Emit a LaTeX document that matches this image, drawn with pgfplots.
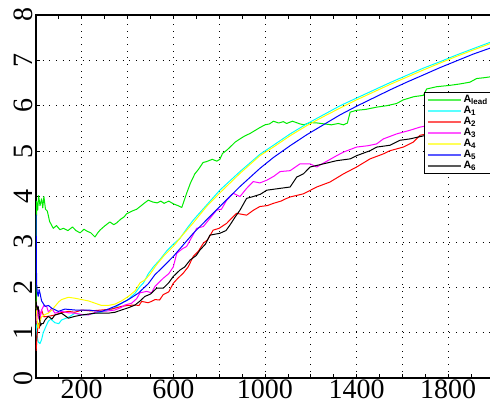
\documentclass[border=0pt]{standalone}
\usepackage{fontspec}
\setmainfont{Liberation Serif}
\setsansfont{Liberation Sans}
\usepackage{pgfplots}
\pgfplotsset{compat=1.18}
\definecolor{cgreen}{RGB}{0,235,0}
\definecolor{ccyan}{RGB}{0,255,255}
\definecolor{cred}{RGB}{255,0,0}
\definecolor{cmag}{RGB}{255,0,255}
\definecolor{cyel}{RGB}{255,255,0}
\definecolor{cblue}{RGB}{0,0,255}
\begin{document}
\begin{tikzpicture}
\begin{axis}[
  scale only axis,
  width=343.5pt, height=272.25pt,
  xmin=0, xmax=2000, ymin=0, ymax=8,
  axis line style={line width=1.4pt},
  xtick={200,400,...,1800},
  xticklabels={200,,600,,1000,,1400,,1800},
  minor xtick={100,300,...,1900},
  ytick={0,1,...,8},
  tick align=inside,
  major tick length=3pt, minor tick length=3pt,
  tick style={black, line width=0.5pt},
  grid=major,
  major grid style={black, line width=0.6pt, dash pattern=on 0.6pt off 4.4pt},
  /pgf/number format/assume math mode=true,
  ticklabel style={font=\fontsize{21}{21}\selectfont},
  yticklabel style={rotate=90, anchor=south, inner sep=2pt},
  xticklabel style={inner sep=1pt},
  every axis plot/.append style={line width=0.75pt, line join=round},
  legend style={at={(rel axis cs:0.847,0.788)}, anchor=north west,
    draw=black, line width=0.8pt, fill=white,
    font=\fontsize{8}{8}\selectfont\sffamily\bfseries,
    inner xsep=1.5pt, inner ysep=1pt, row sep=-1.2pt,
    nodes={inner sep=1.2pt}},
  legend cell align=left,
  legend image code/.code={\draw[#1, line width=1.6pt, opacity=0.65] (0pt,0pt) -- (25pt,0pt);},
]
% A_lead
\addplot[cgreen] coordinates {
(1,1.6)(3,3.9)(8,3.7)(12,4.02)(18,3.8)(25,3.95)(30,3.75)(35,4.0)(42,3.72)(50,3.68)(60,3.45)(76,3.30)(90,3.36)(105,3.27)(120,3.3)(140,3.25)(160,3.33)(175,3.25)(193,3.2)(210,3.28)(222,3.24)(240,3.20)(258,3.11)(270,3.2)(280,3.26)(300,3.35)(323,3.44)(340,3.38)(353,3.42)(370,3.5)(385,3.55)(396,3.62)(420,3.68)(440,3.72)(460,3.8)(475,3.86)(491,3.92)(510,3.88)(530,3.86)(545,3.9)(560,3.85)(580,3.9)(600,3.84)(620,3.8)(637,3.76)(650,3.95)(658,4.07)(675,4.3)(694,4.5)(710,4.6)(730,4.75)(745,4.77)(770,4.82)(790,4.78)(803,4.82)(815,4.95)(833,5.02)(850,5.1)(870,5.2)(891,5.27)(910,5.33)(935,5.39)(955,5.45)(978,5.52)(1000,5.58)(1020,5.6)(1037,5.66)(1060,5.62)(1080,5.65)(1095,5.61)(1120,5.66)(1153,5.6)(1170,5.58)(1197,5.63)(1230,5.62)(1260,5.6)(1290,5.58)(1320,5.61)(1343,5.58)(1360,5.62)(1365,5.72)(1372,5.86)(1400,5.9)(1440,5.92)(1488,5.97)(1530,6.0)(1575,6.05)(1604,6.13)(1650,6.2)(1692,6.23)(1706,6.37)(1750,6.42)(1808,6.45)(1850,6.48)(1895,6.52)(1924,6.6)(1960,6.62)(2000,6.65)
};
\addlegendentry{A\textsubscript{lead}}
% A_1
\addplot[ccyan] coordinates {
(1,1.2)(5,0.95)(10,0.8)(18,0.76)(25,0.85)(32,1.0)(45,1.15)(54,1.25)(65,1.3)(83,1.22)(100,1.2)(112,1.28)(142,1.34)(171,1.43)(200,1.39)(230,1.4)(258,1.43)(290,1.46)(316,1.5)(345,1.55)(374,1.65)(400,1.72)(433,1.87)(455,2.02)(470,2.1)(491,2.3)(513,2.45)(540,2.6)(571,2.8)(600,2.95)(629,3.08)(660,3.3)(687,3.48)(745,3.81)(803,4.14)(891,4.55)(978,4.93)(1037,5.13)(1110,5.38)(1182,5.6)(1255,5.8)(1328,6.0)(1400,6.17)(1473,6.34)(1546,6.51)(1619,6.67)(1692,6.83)(1764,6.97)(1837,7.12)(1910,7.26)(2000,7.43)
};
\addlegendentry{A\textsubscript{1}}
% A_2
\addplot[cred] coordinates {
(1,0.6)(5,0.9)(10,1.21)(15,1.1)(20,1.4)(25,1.5)(35,1.35)(54,1.36)(83,1.39)(110,1.44)(142,1.47)(170,1.45)(200,1.5)(240,1.48)(287,1.5)(330,1.52)(374,1.58)(400,1.6)(433,1.61)(450,1.6)(462,1.69)(490,1.66)(505,1.69)(520,1.73)(540,1.72)(556,1.84)(580,1.9)(600,2.09)(620,2.2)(643,2.31)(665,2.45)(687,2.68)(710,2.8)(731,2.97)(750,3.05)(774,3.26)(800,3.3)(833,3.41)(850,3.5)(876,3.63)(920,3.59)(950,3.7)(978,3.78)(1010,3.8)(1037,3.85)(1070,3.9)(1095,3.96)(1110,3.99)(1168,4.06)(1226,4.21)(1284,4.32)(1343,4.5)(1400,4.65)(1459,4.83)(1517,4.94)(1546,5.01)(1604,5.09)(1648,5.2)(1677,5.35)(1750,5.42)(1850,5.55)(2000,5.65)
};
\addlegendentry{A\textsubscript{2}}
% A_3
\addplot[cmag] coordinates {
(1,1.2)(5,1.6)(10,1.3)(15,1.5)(20,1.35)(25,1.5)(35,1.6)(47,1.58)(55,1.45)(69,1.54)(83,1.43)(112,1.47)(140,1.44)(171,1.43)(200,1.4)(229,1.39)(260,1.45)(287,1.47)(316,1.48)(345,1.5)(370,1.55)(389,1.61)(418,1.65)(440,1.75)(455,1.88)(484,1.91)(505,1.88)(520,2.02)(556,2.2)(580,2.3)(600,2.45)(615,2.75)(640,2.85)(658,2.9)(680,3.1)(702,3.3)(731,3.34)(760,3.52)(789,3.7)(810,3.72)(833,3.92)(862,4.07)(891,4.0)(920,4.18)(949,4.33)(978,4.3)(1008,4.36)(1040,4.45)(1066,4.55)(1110,4.57)(1153,4.72)(1197,4.72)(1226,4.65)(1260,4.75)(1313,4.9)(1343,4.98)(1400,5.09)(1450,5.12)(1488,5.16)(1517,5.27)(1575,5.38)(1633,5.46)(1677,5.53)(1750,5.6)(1850,5.7)(2000,5.8)
};
\addlegendentry{A\textsubscript{3}}
% A_4
\addplot[cyel] coordinates {
(1,1.7)(5,1.3)(10,1.1)(15,1.2)(25,1.35)(40,1.4)(54,1.43)(70,1.5)(83,1.58)(100,1.68)(112,1.73)(142,1.78)(170,1.76)(200,1.73)(230,1.7)(258,1.65)(287,1.6)(316,1.6)(345,1.63)(374,1.7)(404,1.8)(433,1.92)(455,2.1)(476,2.16)(500,2.3)(527,2.5)(560,2.7)(600,2.9)(640,3.15)(687,3.42)(745,3.78)(803,4.08)(891,4.51)(978,4.9)(1037,5.09)(1110,5.34)(1182,5.56)(1255,5.76)(1328,5.95)(1400,6.13)(1473,6.3)(1546,6.47)(1619,6.63)(1692,6.79)(1764,6.94)(1837,7.09)(1910,7.23)(2000,7.4)
};
\addlegendentry{A\textsubscript{4}}
% A_5
\addplot[cblue] coordinates {
(1,3.6)(3,2.1)(6,1.9)(10,1.8)(14,1.95)(18,1.87)(25,1.7)(40,1.58)(55,1.6)(69,1.54)(98,1.47)(127,1.52)(171,1.5)(229,1.5)(260,1.48)(287,1.47)(316,1.52)(345,1.58)(374,1.65)(404,1.73)(447,1.87)(491,2.08)(520,2.28)(541,2.38)(600,2.68)(687,3.19)(803,3.78)(891,4.22)(978,4.62)(1037,4.86)(1110,5.12)(1182,5.36)(1255,5.58)(1328,5.8)(1400,5.99)(1473,6.17)(1546,6.35)(1619,6.52)(1692,6.68)(1764,6.84)(1837,6.99)(1910,7.14)(2000,7.3)
};
\addlegendentry{A\textsubscript{5}}
% A_6
\addplot[black] coordinates {
(1,1.7)(5,1.5)(10,1.58)(15,1.35)(20,1.15)(25,1.2)(32,1.2)(40,1.28)(54,1.36)(70,1.3)(83,1.39)(112,1.43)(142,1.32)(170,1.36)(200,1.39)(258,1.43)(316,1.43)(345,1.45)(374,1.5)(404,1.55)(433,1.61)(455,1.7)(476,1.8)(500,1.85)(527,1.98)(556,1.98)(580,2.1)(600,2.24)(629,2.38)(650,2.45)(673,2.6)(700,2.7)(716,2.82)(740,2.95)(760,3.15)(803,3.19)(830,3.25)(847,3.37)(870,3.55)(891,3.7)(920,3.96)(949,4.0)(980,4.05)(1008,4.14)(1066,4.18)(1110,4.21)(1139,4.43)(1168,4.5)(1197,4.65)(1255,4.72)(1313,4.79)(1372,4.83)(1400,4.9)(1459,5.01)(1488,5.09)(1546,5.13)(1590,5.24)(1633,5.27)(1677,5.32)(1750,5.4)(1850,5.5)(2000,5.6)
};
\addlegendentry{A\textsubscript{6}}
\end{axis}
\pgfresetboundingbox
\path ([xshift=-26.9pt,yshift=-24pt]current axis.south west) rectangle ([xshift=-3pt,yshift=11.25pt]current axis.north east);
\end{tikzpicture}
\end{document}
